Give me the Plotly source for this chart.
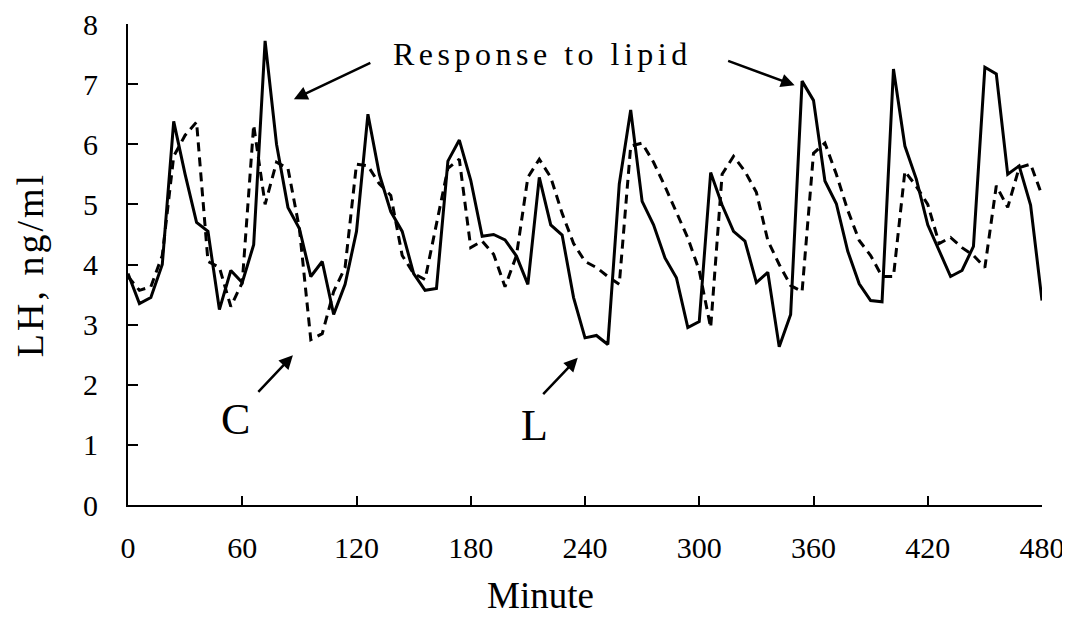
import plotly.graph_objects as go

minutes = [0, 6, 12, 18, 24, 30, 36, 42, 48, 54, 60, 66, 72, 78, 84, 90, 96, 102, 108, 114,
           120, 126, 132, 138, 144, 150, 156, 162, 168, 174, 180, 186, 192, 198, 204, 210,
           216, 222, 228, 234, 240, 246, 252, 258, 264, 270, 276, 282, 288, 294, 300, 306,
           312, 318, 324, 330, 336, 342, 348, 354, 360, 366, 372, 378, 384, 390, 396, 402,
           408, 414, 420, 426, 432, 438, 444, 450, 456, 462, 468, 474, 480]

lh_lipid = [3.85, 3.35, 3.45, 4.0, 6.38, 5.5, 4.7, 4.55, 3.25, 3.9, 3.7, 4.33, 7.72, 6.0,
            4.95, 4.6, 3.8, 4.05, 3.17, 3.67, 4.55, 6.5, 5.5, 4.88, 4.55, 3.85, 3.57, 3.6,
            5.72, 6.07, 5.4, 4.47, 4.5, 4.41, 4.14, 3.67, 5.45, 4.66, 4.49, 3.45, 2.78, 2.82,
            2.67, 5.34, 6.57, 5.05, 4.66, 4.11, 3.78, 2.95, 3.05, 5.53, 4.99, 4.55, 4.39, 3.7,
            3.87, 2.63, 3.17, 7.05, 6.73, 5.39, 5.01, 4.22, 3.68, 3.4, 3.38, 7.25, 5.97, 5.42,
            4.66, 4.22, 3.8, 3.9, 4.3, 7.28, 7.17, 5.5, 5.64, 4.99, 3.4]

lh_control = [3.8, 3.57, 3.63, 4.15, 5.8, 6.15, 6.37, 4.05, 3.95, 3.3, 3.7, 6.32, 5.0, 5.7,
              5.6, 4.6, 2.75, 2.85, 3.55, 3.95, 5.67, 5.64, 5.34, 5.15, 4.15, 3.85, 3.75, 4.65,
              5.6, 5.75, 4.28, 4.39, 4.17, 3.63, 4.15, 5.45, 5.75, 5.45, 4.85, 4.35, 4.05, 3.95,
              3.8, 3.67, 5.97, 6.02, 5.7, 5.3, 4.88, 4.44, 3.9, 2.95, 5.5, 5.8, 5.55, 5.2,
              4.4, 4.0, 3.65, 3.55, 5.85, 6.02, 5.5, 4.9, 4.4, 4.15, 3.8, 3.8, 5.55, 5.3,
              5.0, 4.35, 4.45, 4.28, 4.15, 3.95, 5.31, 4.95, 5.61, 5.67, 5.15]

x_ticks = [0, 60, 120, 180, 240, 300, 360, 420, 480]
y_ticks = [0, 1, 2, 3, 4, 5, 6, 7, 8]

FONT = "Liberation Serif, Times New Roman, serif"

fig = go.Figure()
fig.add_trace(go.Scatter(x=minutes, y=lh_control, mode="lines", name="C",
                         line=dict(color="black", width=3, dash="9px,6px")))
fig.add_trace(go.Scatter(x=minutes, y=lh_lipid, mode="lines", name="L",
                         line=dict(color="black", width=3)))

fig.update_layout(
    width=1070, height=621,
    margin=dict(l=120, r=36, t=16, b=124, autoexpand=False),
    paper_bgcolor="white", plot_bgcolor="white",
    showlegend=False,
    font=dict(family=FONT, color="black", size=30),
)
fig.update_xaxes(range=[0, 480], tickvals=x_ticks, ticktext=[str(v) for v in x_ticks],
                 showgrid=False, zeroline=False, showline=True, linecolor="black",
                 linewidth=2, ticks="inside", ticklen=9, tickwidth=2, tickcolor="black",
                 automargin=False, ticklabeloverflow="allow", ticklabelstandoff=15,
                 tickfont=dict(family=FONT, size=30))
fig.update_yaxes(range=[0, 8], tickvals=y_ticks, ticktext=[str(v) for v in y_ticks],
                 showgrid=False, zeroline=False, showline=True, linecolor="black",
                 linewidth=2, ticks="inside", ticklen=10, tickwidth=2, tickcolor="black",
                 automargin=False, ticklabeloverflow="allow", ticklabelstandoff=22,
                 tickfont=dict(family=FONT, size=30))

anns = [
    dict(text='<span style="letter-spacing:3px">LH, ng/ml</span>', x=-0.107, y=0.499,
         xref="paper", yref="paper", textangle=-90,
         showarrow=False, font=dict(size=38), xanchor="center", yanchor="middle"),
    dict(text="Minute", x=0.451, y=-0.189, xref="paper", yref="paper",
         showarrow=False, font=dict(size=37), xanchor="center", yanchor="middle"),
    dict(text='<span style="letter-spacing:4.5px">Response to lipid</span>', x=0.453, y=0.937,
         xref="paper", yref="paper",
         showarrow=False, font=dict(size=32), xanchor="center", yanchor="middle"),
    dict(text="C", x=0.118, y=0.177, xref="paper", yref="paper",
         showarrow=False, font=dict(size=44), xanchor="center", yanchor="middle"),
    dict(text="L", x=0.445, y=0.166, xref="paper", yref="paper",
         showarrow=False, font=dict(size=44), xanchor="center", yanchor="middle"),
]
arrows = [(87.1, 6.75, 78, -37), (350.1, 6.98, -68, -25),
          (86.6, 2.49, -36, 38), (236.2, 2.45, -36, 38)]
for x, y, ax, ay in arrows:
    anns.append(dict(text="", x=x, y=y, xref="x", yref="y", ax=ax, ay=ay,
                     showarrow=True, arrowhead=2, arrowsize=1.1, arrowwidth=2.5,
                     arrowcolor="black"))
fig.update_layout(annotations=anns)

fig.write_html("out.html")
